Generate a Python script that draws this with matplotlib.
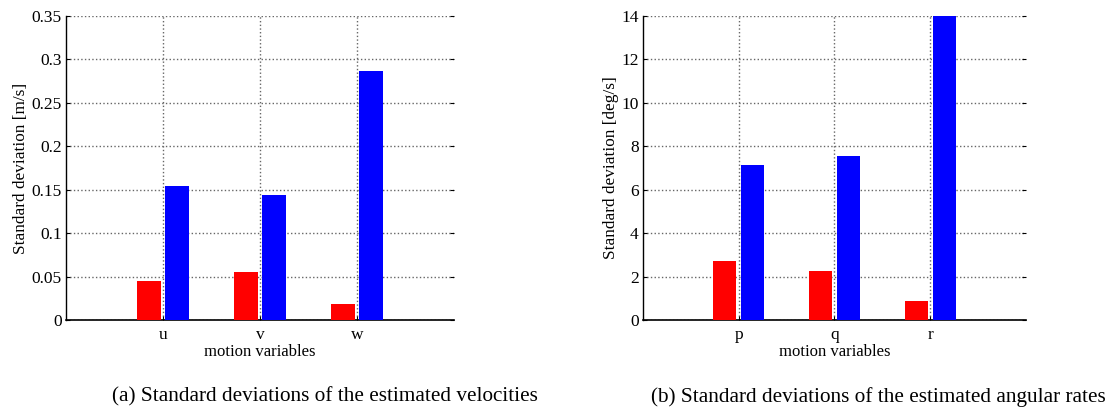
import numpy as np
import matplotlib.pyplot as plt

plt.rcParams['font.family'] = ['Liberation Serif', 'DejaVu Serif']

vel_labels = ["u", "v", "w"]
vel_red = [0.045, 0.055, 0.018]
vel_blue = [0.154, 0.144, 0.287]

rate_labels = ["p", "q", "r"]
rate_red = [2.7, 2.25, 0.88]
rate_blue = [7.15, 7.55, 14.0]

vel_yticks = [0, 0.05, 0.1, 0.15, 0.2, 0.25, 0.3, 0.35]
vel_yticklabels = ["0", "0.05", "0.1", "0.15", "0.2", "0.25", "0.3", "0.35"]
rate_yticks = [0, 2, 4, 6, 8, 10, 12, 14]

fig = plt.figure(figsize=(11.1, 4.09), dpi=100)
ax1 = fig.add_axes([0.0595, 0.2176, 0.3495, 0.7433])
ax2 = fig.add_axes([0.5793, 0.2176, 0.3450, 0.7433])


def draw(ax, labels, red, blue, yticks, ytl, ymax, ylabel):
    x = np.arange(1, len(labels) + 1)
    ax.bar(x - 0.145, red, width=0.24, color="#ff0000", zorder=3)
    ax.bar(x + 0.145, blue, width=0.24, color="#0000ff", zorder=3)
    ax.set_xlim(0, 4)
    ax.set_ylim(0, ymax)
    ax.set_xticks(x)
    ax.set_xticklabels(labels)
    ax.set_yticks(yticks)
    ax.set_yticklabels(ytl)
    ax.grid(True, color="#666666", linestyle=":", linewidth=1.0, zorder=0)
    ax.tick_params(direction="in", length=3, labelsize=12.5, right=True, pad=3)
    ax.tick_params(axis="x", pad=5)
    for s in ["top", "right"]:
        ax.spines[s].set_visible(False)
    ax.spines["left"].set_linewidth(1.0)
    ax.spines["bottom"].set_linewidth(1.2)
    ax.set_xlabel("motion variables", fontsize=12, labelpad=1)
    ax.set_ylabel(ylabel, fontsize=12.4, labelpad=2)


draw(ax1, vel_labels, vel_red, vel_blue, vel_yticks, vel_yticklabels, 0.35,
     "Standard deviation [m/s]")
draw(ax2, rate_labels, rate_red, rate_blue, rate_yticks,
     [str(t) for t in rate_yticks], 14, "Standard deviation [deg/s]")

fig.text(0.2923, 0.029, "(a) Standard deviations of the estimated velocities",
         ha="center", va="center", fontsize=15.3)
fig.text(0.791, 0.029, "(b) Standard deviations of the estimated angular rates",
         ha="center", va="center", fontsize=15.3)

fig.savefig("out.png", dpi=100)
